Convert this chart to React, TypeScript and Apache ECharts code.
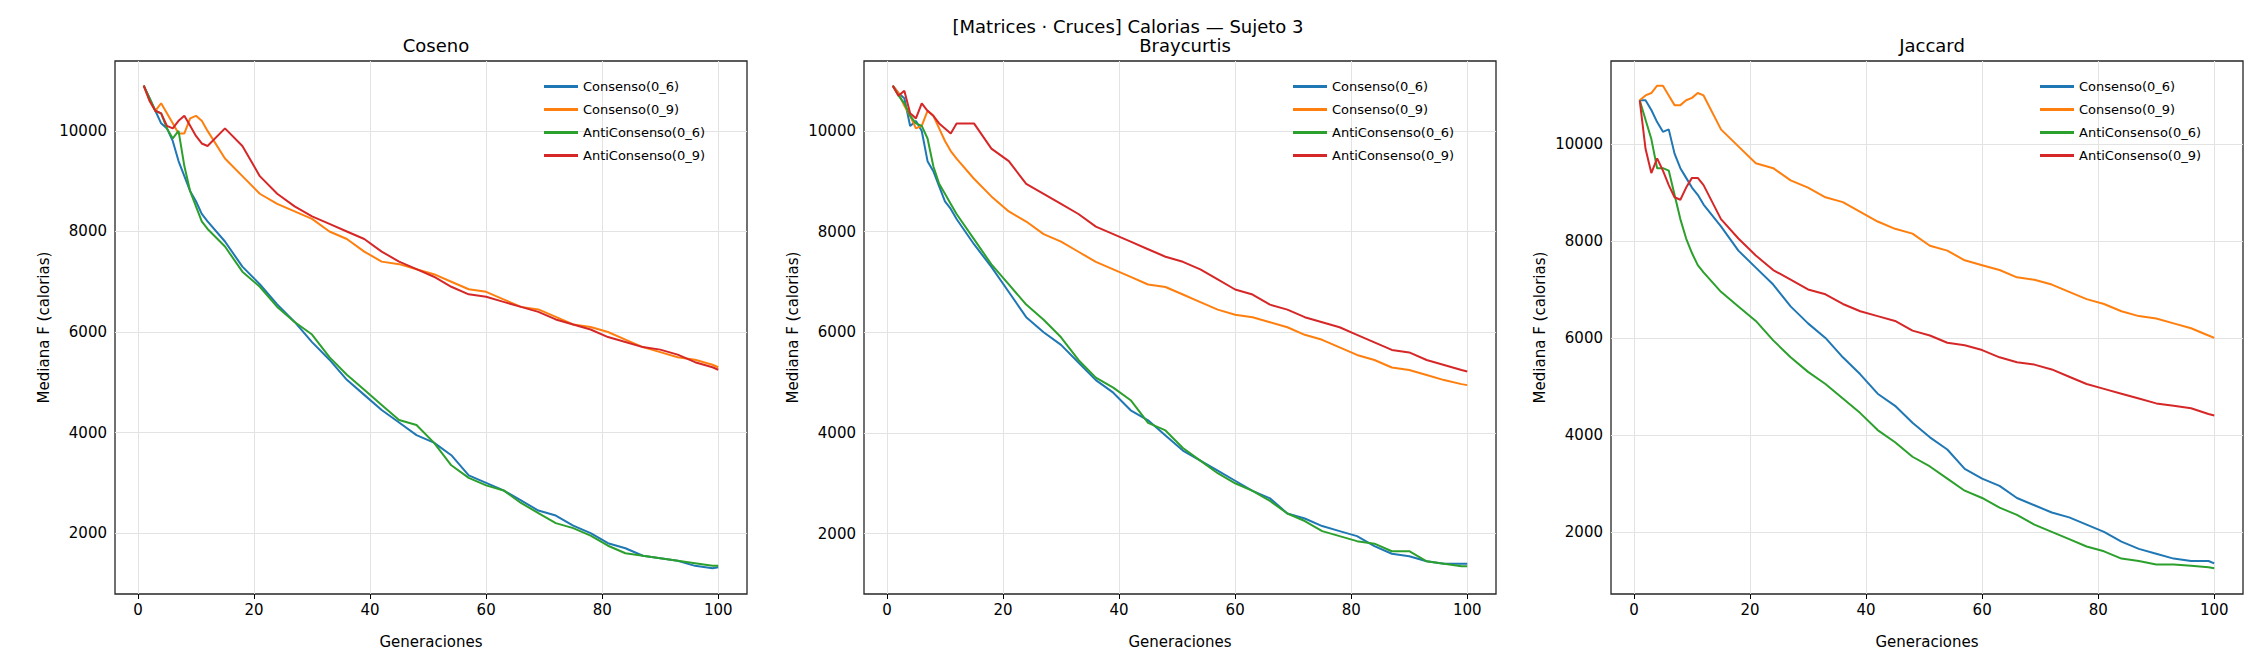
import React, { useEffect, useRef } from 'react';
import * as echarts from 'echarts';

const gens = [1, 2, 3, 4, 5, 6, 7, 8, 9, 10, 11, 12, 15, 18, 21, 24, 27, 30, 33, 36, 39, 42, 45, 48, 51, 54, 57, 60, 63, 66, 69, 72, 75, 78, 81, 84, 87, 90, 93, 96, 99, 100];
const xTicks = [0, 20, 40, 60, 80, 100];
const yTicks = [2000, 4000, 6000, 8000, 10000];
const seriesNames = ['Consenso(0_6)', 'Consenso(0_9)', 'AntiConsenso(0_6)', 'AntiConsenso(0_9)'];
const colors = ['#1f77b4', '#ff7f0e', '#2ca02c', '#d62728'];
const panelTitles = ['Coseno', 'Braycurtis', 'Jaccard'];

// Coseno
const cosC06 = [10900, 10650, 10400, 10150, 10050, 9800, 9400, 9100, 8800, 8600, 8350, 8200, 7800, 7300, 6950, 6550, 6200, 5800, 5450, 5050, 4750, 4450, 4200, 3950, 3800, 3550, 3150, 3000, 2850, 2650, 2450, 2350, 2150, 2000, 1800, 1700, 1550, 1500, 1450, 1350, 1300, 1320];
const cosC09 = [10900, 10600, 10400, 10550, 10350, 10150, 9950, 9950, 10250, 10300, 10200, 10000, 9450, 9100, 8750, 8550, 8400, 8250, 8000, 7850, 7600, 7400, 7350, 7250, 7150, 7000, 6850, 6800, 6650, 6500, 6450, 6300, 6150, 6100, 6000, 5850, 5700, 5600, 5500, 5450, 5350, 5300];
const cosA06 = [10900, 10650, 10400, 10350, 10050, 9850, 10000, 9300, 8800, 8500, 8200, 8050, 7700, 7200, 6900, 6500, 6200, 5950, 5500, 5150, 4850, 4550, 4250, 4150, 3800, 3350, 3100, 2950, 2850, 2600, 2400, 2200, 2100, 1950, 1750, 1600, 1550, 1500, 1450, 1400, 1350, 1350];
const cosA09 = [10900, 10600, 10400, 10350, 10100, 10050, 10200, 10300, 10100, 9900, 9750, 9700, 10050, 9700, 9100, 8750, 8500, 8300, 8150, 8000, 7850, 7600, 7400, 7250, 7100, 6900, 6750, 6700, 6600, 6500, 6400, 6250, 6150, 6050, 5900, 5800, 5700, 5650, 5550, 5400, 5300, 5250];

// Braycurtis
const brayC06 = [10900, 10750, 10650, 10100, 10200, 10000, 9400, 9200, 8900, 8600, 8450, 8250, 7750, 7300, 6800, 6300, 6000, 5750, 5400, 5050, 4800, 4450, 4250, 3950, 3650, 3450, 3250, 3050, 2850, 2700, 2400, 2300, 2150, 2050, 1950, 1750, 1600, 1550, 1450, 1400, 1400, 1400];
const brayC09 = [10900, 10750, 10500, 10300, 10050, 10100, 10400, 10300, 10050, 9800, 9600, 9450, 9050, 8700, 8400, 8200, 7950, 7800, 7600, 7400, 7250, 7100, 6950, 6900, 6750, 6600, 6450, 6350, 6300, 6200, 6100, 5950, 5850, 5700, 5550, 5450, 5300, 5250, 5150, 5050, 4970, 4950];
const brayA06 = [10900, 10700, 10550, 10300, 10150, 10100, 9850, 9300, 8950, 8750, 8550, 8350, 7850, 7350, 6950, 6550, 6250, 5900, 5450, 5100, 4900, 4650, 4200, 4050, 3700, 3450, 3200, 3000, 2850, 2650, 2400, 2250, 2050, 1950, 1850, 1800, 1650, 1650, 1450, 1400, 1350, 1350];
const brayA09 = [10900, 10700, 10800, 10350, 10250, 10550, 10400, 10300, 10150, 10050, 9950, 10150, 10150, 9650, 9400, 8950, 8750, 8550, 8350, 8100, 7950, 7800, 7650, 7500, 7400, 7250, 7050, 6850, 6750, 6550, 6450, 6300, 6200, 6100, 5950, 5800, 5650, 5600, 5450, 5350, 5250, 5220];

// Jaccard
const jacC06 = [10900, 10900, 10700, 10450, 10250, 10300, 9800, 9500, 9300, 9100, 8950, 8750, 8300, 7800, 7450, 7100, 6650, 6300, 6000, 5600, 5250, 4850, 4600, 4250, 3950, 3700, 3300, 3100, 2950, 2700, 2550, 2400, 2300, 2150, 2000, 1800, 1650, 1550, 1450, 1400, 1400, 1350];
const jacC09 = [10900, 11000, 11050, 11200, 11200, 11000, 10800, 10800, 10900, 10950, 11050, 11000, 10300, 9950, 9600, 9500, 9250, 9100, 8900, 8800, 8600, 8400, 8250, 8150, 7900, 7800, 7600, 7500, 7400, 7250, 7200, 7100, 6950, 6800, 6700, 6550, 6450, 6400, 6300, 6200, 6050, 6000];
const jacA06 = [10900, 10500, 10100, 9500, 9500, 9450, 8950, 8450, 8050, 7750, 7500, 7350, 6950, 6650, 6350, 5950, 5600, 5300, 5050, 4750, 4450, 4100, 3850, 3550, 3350, 3100, 2850, 2700, 2500, 2350, 2150, 2000, 1850, 1700, 1600, 1450, 1400, 1330, 1330, 1300, 1270, 1250];
const jacA09 = [10900, 9900, 9400, 9700, 9450, 9150, 8900, 8850, 9100, 9300, 9300, 9150, 8450, 8050, 7700, 7400, 7200, 7000, 6900, 6700, 6550, 6450, 6350, 6150, 6050, 5900, 5850, 5750, 5600, 5500, 5450, 5350, 5200, 5050, 4950, 4850, 4750, 4650, 4600, 4550, 4430, 4400];

const panels = [
  { data: [cosC06, cosC09, cosA06, cosA09], yMin: 790, yMax: 11390 },
  { data: [brayC06, brayC09, brayA06, brayA09], yMin: 800, yMax: 11390 },
  { data: [jacC06, jacC09, jacA06, jacA09], yMin: 720, yMax: 11710 },
];

const W = 2256;
const H = 664;
const gridLeft = [115, 864, 1611];
const gridWidth = 632;
const gridTop = 61;
const gridHeight = 533;
const FONT = 'DejaVu Sans';

const App: React.FC = () => {
  const chartRef = useRef<HTMLDivElement>(null);

  useEffect(() => {
    if (!chartRef.current) return;
    const chart = echarts.init(chartRef.current, undefined, { renderer: 'svg' });

    const grids = gridLeft.map((left) => ({
      left, top: gridTop, width: gridWidth, height: gridHeight,
      show: true, borderColor: '#262626', borderWidth: 1.3, backgroundColor: 'transparent',
    }));

    const xAxes = panels.map((_, i) => ({
      type: 'value', gridIndex: i, min: -3.95, max: 104.95,
      name: 'Generaciones', nameLocation: 'middle', nameGap: 40,
      nameTextStyle: { fontFamily: FONT, fontSize: 15, color: '#000' },
      axisLine: { show: false },
      axisTick: { show: true, customValues: xTicks, length: 5, lineStyle: { color: '#000' } },
      axisLabel: { customValues: xTicks, fontFamily: FONT, fontSize: 15, color: '#000', margin: 8 },
      splitLine: { show: false },
    }));

    const yAxes = panels.map((p, i) => ({
      type: 'value', gridIndex: i, min: p.yMin, max: p.yMax,
      name: 'Mediana F (calorias)', nameLocation: 'middle', nameGap: 64,
      nameTextStyle: { fontFamily: FONT, fontSize: 15, color: '#000' },
      axisLine: { show: false },
      axisTick: { show: true, customValues: yTicks, length: 5, lineStyle: { color: '#000' } },
      axisLabel: {
        customValues: yTicks, fontFamily: FONT, fontSize: 15, color: '#000', margin: 8,
        formatter: (v: number) => String(v),
      },
      splitLine: { show: false },
    }));

    const series: any[] = [];
    panels.forEach((p, i) => {
      p.data.forEach((vals, k) => {
        series.push({
          type: 'line', name: seriesNames[k], xAxisIndex: i, yAxisIndex: i,
          data: gens.map((g, j) => [g, vals[j]]),
          showSymbol: false, color: colors[k], lineStyle: { width: 2, color: colors[k] },
          z: 3,
          ...(k === 0
            ? {
                markLine: {
                  silent: true, symbol: 'none', label: { show: false },
                  lineStyle: { color: '#e3e3e3', width: 1, type: 'solid' },
                  z: 1,
                  data: [
                    ...xTicks.map((v) => ({ xAxis: v })),
                    ...yTicks.map((v) => ({ yAxis: v })),
                  ],
                },
              }
            : {}),
        });
      });
    });

    const legends = gridLeft.map((left) => ({
      orient: 'vertical', left: left + gridWidth - 208, top: 75,
      itemWidth: 34, itemHeight: 3, itemGap: 10, icon: 'rect',
      textStyle: { fontFamily: FONT, fontSize: 13, color: '#000' },
      data: seriesNames.map((n, k) => ({ name: n, itemStyle: { color: colors[k] } })),
      inactiveColor: '#ccc',
    }));

    const titles = [
      { text: '[Matrices · Cruces] Calorias — Sujeto 3', left: 'center', top: 12,
        textStyle: { fontFamily: FONT, fontSize: 18, fontWeight: 'normal', color: '#000' } },
      ...panelTitles.map((t, i) => ({
        text: t, left: gridLeft[i] + gridWidth / 2, textAlign: 'center', top: 31,
        textStyle: { fontFamily: FONT, fontSize: 18, fontWeight: 'normal', color: '#000' },
      })),
    ];

    chart.setOption({
      animation: false,
      backgroundColor: '#fff',
      title: titles,
      legend: legends,
      grid: grids,
      xAxis: xAxes,
      yAxis: yAxes,
      series,
    });
    return () => chart.dispose();
  }, []);

  return (
    <div style={{ position: 'absolute', left: 0, top: 0 }}>
      <div ref={chartRef} style={{ width: W, height: H }} />
    </div>
  );
};

export default App;
